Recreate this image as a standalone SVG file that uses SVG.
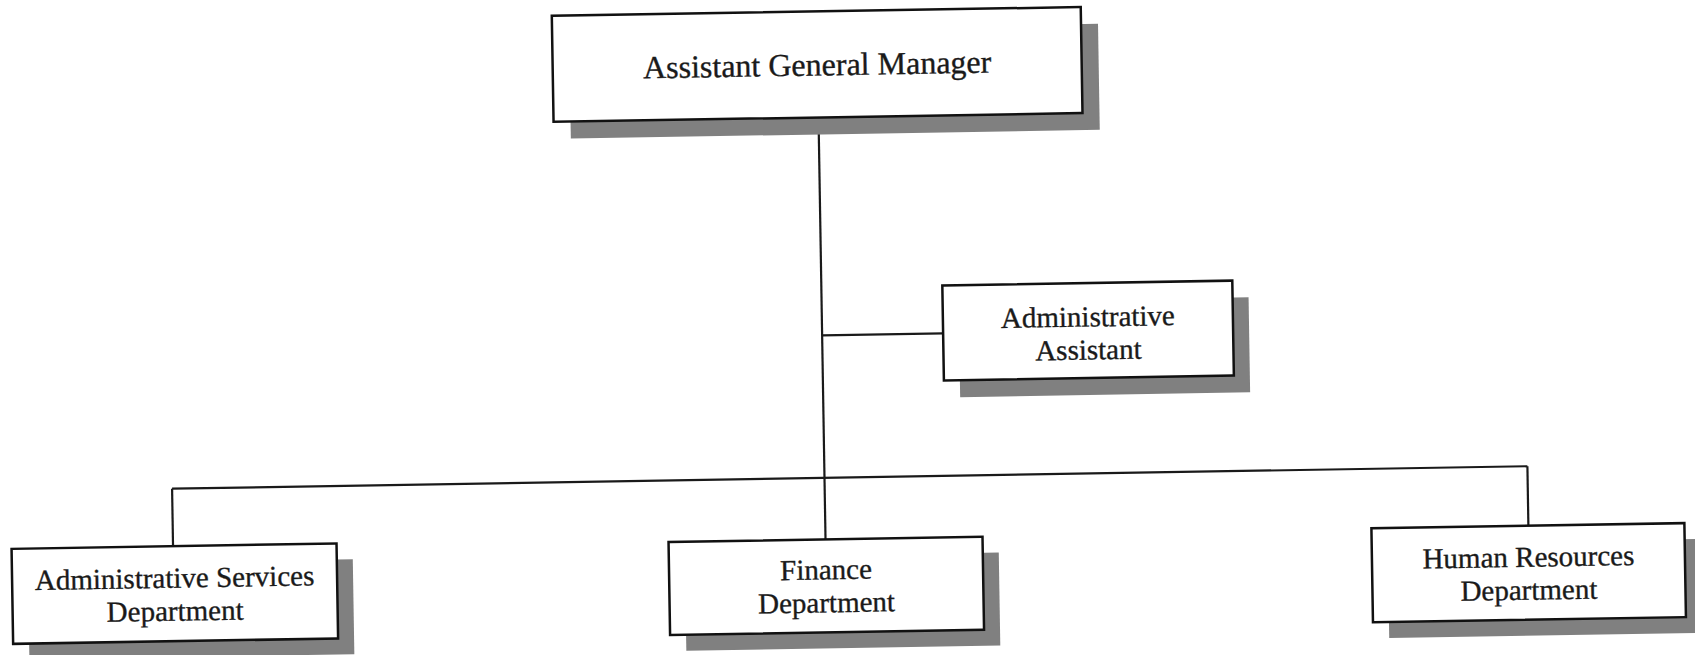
<svg xmlns="http://www.w3.org/2000/svg" width="1695" height="655" viewBox="0 0 1695 655">
  <style>
    .box { fill: #ffffff; stroke: #111111; stroke-width: 2.5; }
    .shadow { fill: #808080; }
    .link { fill: none; stroke: #1a1a1a; stroke-width: 2.2; }
    .label { font-family: "Liberation Serif", "Times New Roman", serif; font-size: 29px; fill: #1a1a1a; stroke: #1a1a1a; stroke-width: 0.35; text-anchor: middle; }
    .title { font-size: 32px; }
  </style>
  <rect width="1695" height="655" fill="#ffffff"/>
  <!-- whole chart sits slightly tilted on the page -->
  <g transform="rotate(-0.95 847 327)">
    <g id="connectors">
      <line class="link" x1="822" y1="117" x2="822" y2="539"/>
      <line class="link" x1="822" y1="335" x2="943" y2="335"/>
      <line class="link" x1="169.5" y1="477.5" x2="1525" y2="477.5"/>
      <line class="link" x1="169.5" y1="477.5" x2="169.5" y2="535"/>
      <line class="link" x1="1525" y1="477.5" x2="1525" y2="537"/>
    </g>

    <g id="assistant-general-manager">
      <rect class="shadow" x="574" y="28" width="529" height="106"/>
      <rect class="box" x="557" y="11" width="529" height="106"/>
      <text class="label title" x="821.5" y="75">Assistant General Manager</text>
    </g>

    <g id="administrative-assistant">
      <rect class="shadow" x="959" y="304" width="290" height="95"/>
      <rect class="box" x="943" y="287" width="290" height="95"/>
      <text class="label" x="1088" y="330.5">Administrative</text>
      <text class="label" x="1088" y="363.5">Assistant</text>
    </g>

    <g id="administrative-services">
      <rect class="shadow" x="24" y="551" width="325" height="95"/>
      <rect class="box" x="8" y="535" width="325" height="95"/>
      <text class="label" x="170.5" y="576.5">Administrative Services</text>
      <text class="label" x="170.5" y="609.5">Department</text>
    </g>

    <g id="finance">
      <rect class="shadow" x="681" y="555" width="314" height="93"/>
      <rect class="box" x="665" y="539" width="314" height="93"/>
      <text class="label" x="822" y="579">Finance</text>
      <text class="label" x="822" y="612">Department</text>
    </g>

    <g id="human-resources">
      <rect class="shadow" x="1384" y="553" width="313" height="94"/>
      <rect class="box" x="1368" y="537" width="313" height="94"/>
      <text class="label" x="1524.5" y="578">Human Resources</text>
      <text class="label" x="1524.5" y="611">Department</text>
    </g>
  </g>
</svg>
